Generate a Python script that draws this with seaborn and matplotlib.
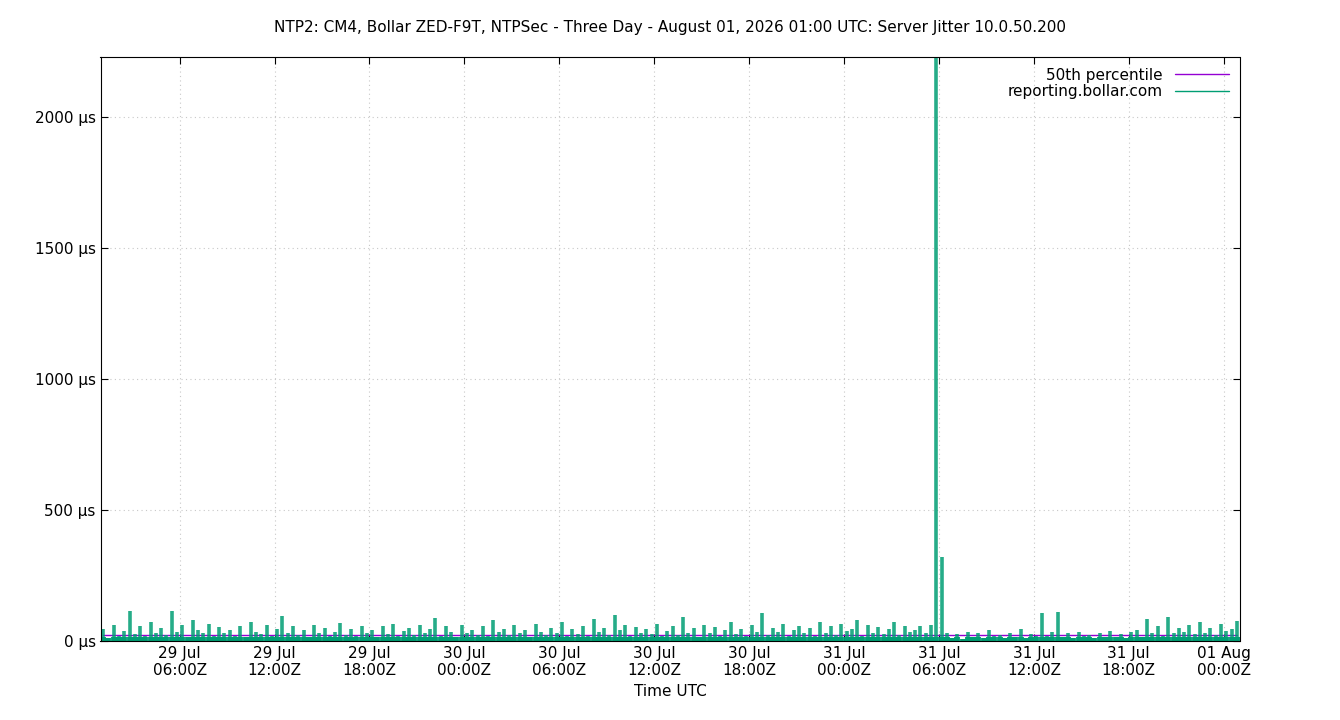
import numpy as np
import pandas as pd
import matplotlib
matplotlib.use("Agg")
import matplotlib.pyplot as plt
import matplotlib.dates as mdates
import seaborn as sns

sns.set_theme(style="white")
plt.rcParams['font.family'] = ['DejaVu Sans']
plt.rcParams['text.color'] = 'black'
plt.rcParams['xtick.color'] = 'black'
plt.rcParams['ytick.color'] = 'black'
plt.rcParams['axes.labelcolor'] = 'black'

start = pd.Timestamp("2026-07-29 01:00")
# server jitter (µs), one sample every 20 minutes
jitter = [
    45, 12, 60, 20, 38, 115, 25, 55, 18, 70, 30, 48,
    22, 112, 35, 62, 15, 80, 40, 28, 66, 18, 52, 30,
    40, 20, 58, 14, 72, 35, 25, 60, 18, 45, 95, 30,
    55, 22, 40, 16, 62, 28, 50, 20, 35, 68, 24, 44,
    18, 58, 30, 42, 15, 55, 26, 65, 20, 38, 50, 22,
    62, 28, 45, 88, 20, 55, 35, 16, 60, 30, 42, 24,
    55, 18, 80, 32, 46, 22, 60, 28, 40, 15, 66, 35,
    24, 50, 30, 70, 18, 44, 26, 58, 20, 85, 32, 48,
    22, 100, 40, 60, 18, 52, 30, 45, 25, 66, 20, 38,
    58, 24, 92, 30, 48, 16, 62, 28, 54, 20, 40, 70,
    26, 46, 18, 60, 32, 105, 22, 50, 35, 64, 20, 42,
    58, 28, 48, 18, 72, 30, 55, 24, 66, 36, 44, 80,
    20, 60, 30, 52, 25, 46, 70, 22, 58, 32, 40, 55,
    28, 60, 2400, 320,
    30, 12, 25, 8, 35, 15, 28, 10, 40, 18, 22, 9,
    30, 14, 45, 12, 26, 18, 105, 20, 35, 110, 15, 28,
    10, 32, 18, 24, 12, 30, 15, 38, 14, 25, 10, 32,
    40, 15, 85, 30, 55, 20, 90, 28, 48, 35, 60, 25,
    70, 30, 50, 22, 65, 38, 45, 75,
]
times = start + pd.to_timedelta(np.arange(len(jitter)) * 20 + 10, unit="min")
median = [22] * len(jitter)
df = pd.DataFrame({"time": times, "jitter": jitter, "median": median})

fig, ax = plt.subplots(figsize=(13.4, 7.2), dpi=100)
fig.subplots_adjust(left=0.075, right=0.925, top=0.921, bottom=0.11)

sns.lineplot(data=df, x="time", y="median", ax=ax, color="#9400d3", lw=1,
             label="50th percentile")
ax.vlines(df["time"], 0, df["jitter"], color="#009e73", lw=2.6, alpha=0.85)
ax.vlines(df["time"], 0, [min(v, 14) for v in jitter], color="#009e73", lw=4.2)
ax.plot([], [], color="#009e73", lw=1, label="reporting.bollar.com")

ax.set_xlim(start, start + pd.Timedelta(hours=72))
ax.set_ylim(0, 2230)
ax.set_yticks([0, 500, 1000, 1500, 2000])
ax.set_yticklabels([f"{v} µs" for v in [0, 500, 1000, 1500, 2000]], fontsize=11)
ax.xaxis.set_major_locator(mdates.HourLocator(byhour=[0, 6, 12, 18]))
ax.xaxis.set_major_formatter(mdates.DateFormatter("%d %b\n%H:%MZ"))
ax.tick_params(axis="x", labelsize=11, direction="in", length=5, width=0.8)
ax.tick_params(axis="y", direction="in", length=5, width=0.8)
ax.tick_params(top=True, right=True, bottom=True, left=True)
ax.grid(True, color="#c8c8c8", linestyle=(0, (1, 3)), lw=0.8)
for s in ax.spines.values():
    s.set_color("black")
    s.set_linewidth(0.8)
ax.set_xlabel("Time UTC", fontsize=11)
ax.set_ylabel("")
ax.set_title("NTP2: CM4, Bollar ZED-F9T, NTPSec - Three Day - August 01, 2026 01:00 UTC: Server Jitter 10.0.50.200",
             fontsize=11, pad=18)
ax.legend(loc="upper right", frameon=False, fontsize=11, markerfirst=False,
          handlelength=3.5, borderaxespad=0.3, labelspacing=0.1)
fig.savefig("out.png", dpi=100)
